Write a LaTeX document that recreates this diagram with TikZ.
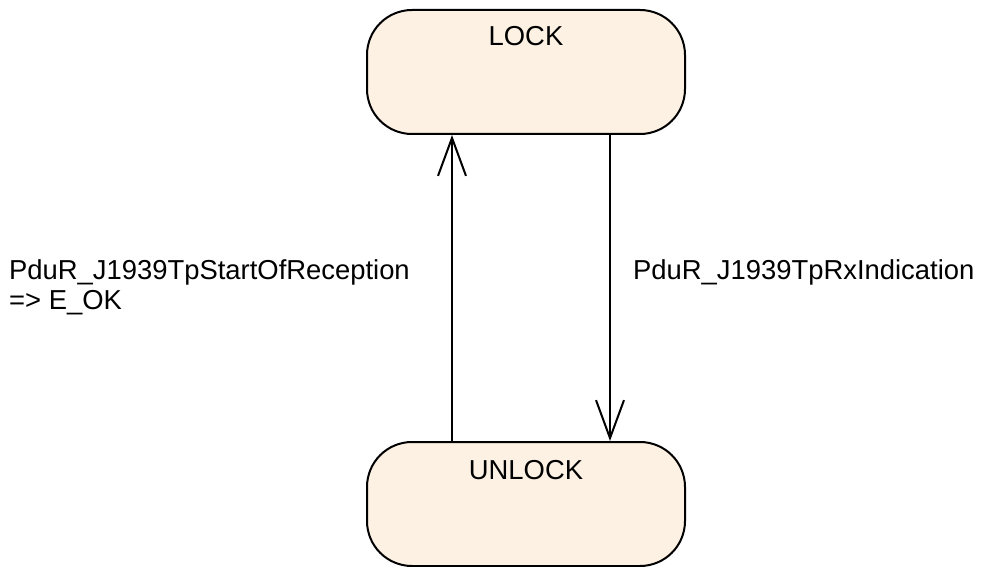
\documentclass[tikz,border=0pt]{standalone}
\usepackage{fontspec}
\setmainfont{Liberation Sans}
\usetikzlibrary{arrows.meta}
\definecolor{statefill}{RGB}{252,241,227}
\tikzset{
  stbox/.style={draw=black, line width=2pt, fill=statefill, rounded corners=45pt,
    minimum width=318pt, minimum height=124pt, inner sep=0pt},
  stname/.style={font=\fontsize{27.4}{30}\selectfont, inner sep=0pt},
  trarrow/.style={draw=black, line width=2pt,
    -{Straight Barb[length=38pt, width=28pt, line width=2pt]}},
  trlabel/.style={font=\fontsize{27.4}{30}\selectfont, inner sep=0pt, align=left}
}
\begin{document}
\begin{tikzpicture}[x=1pt, y=-1pt]
  \useasboundingbox (0,0) rectangle (989,567);

  % the two states
  \node[stbox, label={[stname, anchor=north, yshift=-17pt]north:LOCK}] (lock) at (526,72) {};
  \node[stbox, label={[stname, anchor=north, yshift=-19pt]north:UNLOCK}] (unlock) at (526,504) {};

  % transitions
  \coordinate (upfoot) at ([xshift=-74pt]unlock.north);
  \coordinate (uphead) at ([xshift=-74pt]lock.south);
  \coordinate (downfoot) at ([xshift=84pt]lock.south);
  \coordinate (downhead) at ([xshift=84pt]unlock.north);
  \draw[trarrow] (upfoot) -- (uphead);
  \draw[trarrow] (downfoot) -- (downhead);

  % transition labels
  \node[trlabel, anchor=west] (startlbl) at (9,287) {PduR\_J1939TpStartOfReception\\=> E\_OK};
  \node[trlabel, anchor=west] (rxlbl) at (633,272) {PduR\_J1939TpRxIndication};
\end{tikzpicture}
\end{document}
